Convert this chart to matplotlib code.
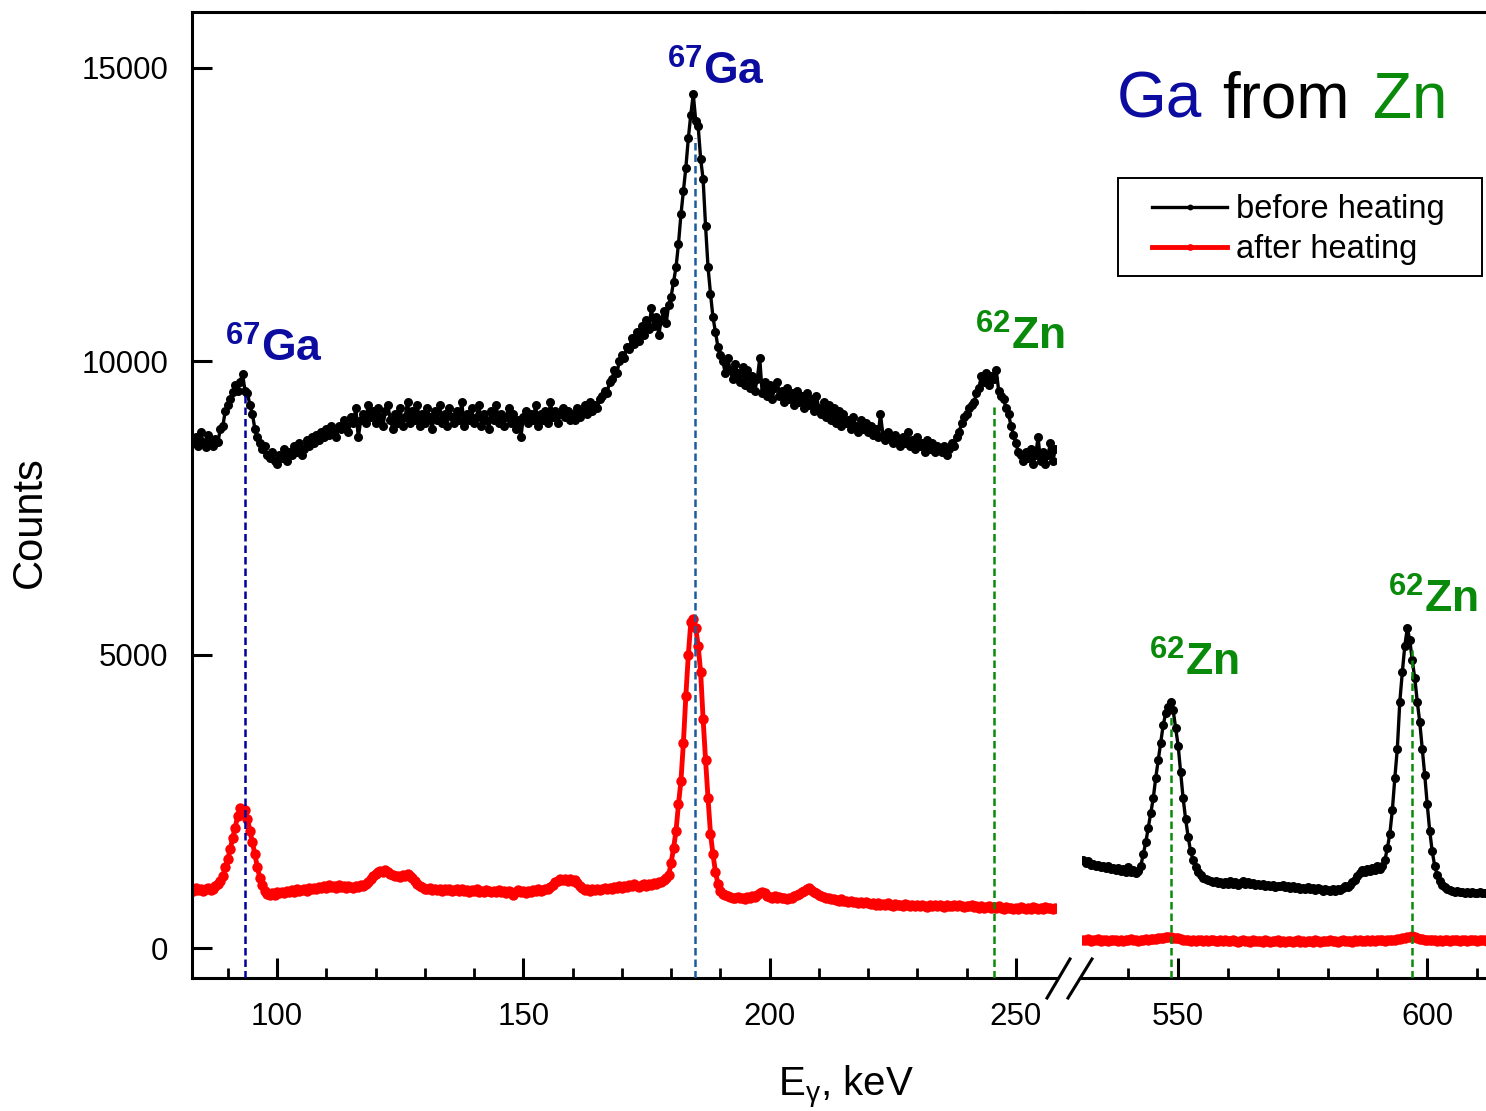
import numpy as np
import matplotlib
matplotlib.use('Agg')
import matplotlib.pyplot as plt
from matplotlib.lines import Line2D
from matplotlib.patches import Rectangle

plt.rcParams['font.family'] = 'Liberation Sans'
plt.rcParams['mathtext.fontset'] = 'custom'
plt.rcParams['mathtext.rm'] = 'Liberation Sans'
plt.rcParams['mathtext.it'] = 'Liberation Sans:italic'
plt.rcParams['mathtext.bf'] = 'Liberation Sans:bold'

# energy grid: 0.5 keV channels
low_start = 83.0   # keV, low-energy part
high_start = 531.0  # keV, high-energy part
step = 0.5

# before heating, 83 - 258 keV
before_low = [
    8600, 8700, 8550, 8800, 8620, 8540, 8750, 8600, 8560, 8680,
    8620, 8850, 8900, 9150, 9250, 9350, 9480, 9600, 9500, 9650,
    9780, 9500, 9450, 9250, 9100, 8850, 8700, 8600, 8500, 8550,
    8400, 8350, 8450, 8300, 8250, 8400, 8350, 8500, 8300, 8450,
    8400, 8550, 8450, 8600, 8400, 8500, 8650, 8550, 8700, 8600,
    8750, 8650, 8800, 8700, 8850, 8750, 8900, 8800, 8700, 8900,
    8850, 9000, 8900, 8800, 9050, 8950, 9200, 8700, 9000, 9100,
    8950, 9250, 9050, 9150, 8950, 9200, 9050, 8900, 9150, 9250,
    9000, 8850, 9100, 8950, 9200, 8900, 9050, 9300, 8950, 9150,
    9000, 9250, 8900, 9100, 8950, 9200, 9050, 8850, 9150, 9000,
    9250, 8950, 9100, 8900, 9200, 9050, 8950, 9150, 9000, 9300,
    8900, 9100, 9000, 9200, 8950, 9050, 9250, 8900, 9100, 9000,
    8850, 9150, 9000, 9250, 8950, 9100, 8900, 9050, 9200, 8950,
    9100, 8850, 9000, 8700, 9050, 9150, 8950, 9100, 9000, 9250,
    8900, 9100, 9000, 9150, 8950, 9300, 9050, 9150, 8950, 9100,
    9200, 9050, 9150, 9000, 9100, 9000, 9200, 9050, 9150, 9250,
    9100, 9300, 9150, 9250, 9200, 9350, 9400, 9500, 9450, 9650,
    9700, 9850, 9800, 10000, 10100, 10050, 10250, 10200, 10400, 10300,
    10500, 10350, 10600, 10450, 10700, 10550, 10900, 10600, 10750, 10450,
    10700, 10850, 10650, 10950, 11100, 11350, 11600, 12000, 12500, 12900,
    13300, 13800, 14200, 14550, 14100, 14000, 13450, 13100, 12300, 11600,
    11150, 10750, 10500, 10250, 10100, 10000, 9800, 10050, 9850, 9700,
    9950, 9800, 9650, 9900, 9600, 9850, 9550, 9750, 9500, 9700,
    10050, 9450, 9650, 9400, 9600, 9350, 9550, 9650, 9400, 9500,
    9300, 9550, 9350, 9450, 9250, 9500, 9300, 9400, 9200, 9450,
    9250, 9350, 9150, 9400, 9200, 9100, 9300, 9050, 9250, 9000,
    9200, 8950, 9150, 8900, 9100, 8950, 9000, 8850, 9050, 8900,
    8800, 9000, 8850, 8950, 8800, 8900, 8750, 8850, 8700, 9100,
    8750, 8650, 8800, 8700, 8600, 8750, 8650, 8550, 8700, 8600,
    8800, 8550, 8650, 8500, 8700, 8550, 8600, 8450, 8650, 8500,
    8600, 8450, 8550, 8500, 8450, 8550, 8400, 8500, 8600, 8550,
    8700, 8800, 8950, 9050, 9100, 9200, 9250, 9300, 9450, 9550,
    9750, 9650, 9800, 9600, 9750, 9700, 9850, 9500, 9400, 9350,
    9200, 9100, 8900, 8750, 8600, 8450, 8400, 8300, 8450, 8350,
    8500, 8250, 8400, 8700, 8300, 8450, 8250, 8400, 8600, 8300,
    8500,
]

# after heating, 83 - 258 keV
after_low = [
    980, 1020, 990, 1010, 970, 1000, 1030, 990, 1010, 1050,
    1090, 1150, 1230, 1380, 1520, 1680, 1880, 2050, 2250, 2380,
    2300, 2350, 2200, 2000, 1800, 1600, 1380, 1200, 1080, 980,
    920, 900, 940, 910, 950, 930, 960, 940, 970, 950,
    990, 960, 1000, 970, 990, 1010, 980, 1020, 1000, 1030,
    1010, 1040, 1020, 1050, 1030, 1080, 1040, 1060, 1030, 1070,
    1040, 1050, 1020, 1060, 1040, 1030, 1060, 1040, 1070, 1060,
    1090, 1130, 1170, 1220, 1260, 1290, 1320, 1300, 1330, 1290,
    1270, 1240, 1220, 1230, 1210, 1240, 1220, 1260, 1230, 1200,
    1150, 1100, 1060, 1040, 1010, 1000, 1020, 990, 1010, 990,
    1000, 980, 1010, 990, 1000, 970, 990, 1010, 980, 1000,
    970, 990, 960, 990, 970, 1000, 960, 980, 950, 990,
    970, 950, 980, 960, 990, 950, 970, 940, 980, 960,
    900, 960, 990, 950, 970, 940, 980, 960, 990, 970,
    1000, 970, 990, 1010, 1000, 1040, 1080, 1120, 1150, 1170,
    1160, 1180, 1150, 1170, 1140, 1160, 1110, 1060, 1020, 990,
    1000, 980, 1000, 990, 1010, 990, 1000, 1020, 1000, 1030,
    1010, 1040, 1020, 1050, 1030, 1060, 1040, 1080, 1050, 1090,
    1060, 1040, 1070, 1090, 1060, 1100, 1080, 1110, 1090, 1130,
    1120, 1160, 1200, 1240, 1450, 1700, 2000, 2450, 2850, 3500,
    4300, 5000, 5550, 5600, 5450, 5150, 4700, 3900, 3200, 2550,
    1950, 1600, 1300, 1100, 980, 920, 900, 880, 870, 860,
    850, 870, 850, 860, 840, 870, 860, 880, 870, 900,
    930, 960, 930, 890, 870, 860, 880, 850, 870, 850,
    860, 840, 860, 850, 880, 900, 920, 950, 980, 1000,
    1020, 990, 960, 930, 900, 880, 870, 860, 850, 830,
    840, 820, 810, 830, 800, 810, 790, 800, 780, 790,
    770, 790, 760, 780, 770, 750, 770, 740, 760, 730,
    750, 730, 760, 740, 720, 750, 730, 740, 720, 750,
    730, 710, 740, 720, 730, 710, 740, 720, 700, 730,
    720, 740, 710, 730, 720, 700, 730, 710, 720, 740,
    710, 730, 720, 700, 720, 710, 730, 700, 720, 690,
    710, 690, 700, 720, 690, 700, 680, 710, 690, 670,
    700, 680, 690, 660, 690, 670, 700, 680, 660, 690,
    670, 700, 680, 660, 690, 670, 700, 680, 690, 670,
    690,
]

# before heating, 531 - 612 keV
before_high = [
    1500, 1450, 1480, 1420, 1440, 1400, 1420, 1380, 1400, 1370,
    1390, 1350, 1370, 1330, 1360, 1320, 1340, 1300, 1380, 1290,
    1330, 1280, 1320, 1400, 1600, 1800, 2050, 2300, 2550, 2900,
    3200, 3500, 3800, 4000, 4100, 4200, 4050, 3750, 3450, 3000,
    2550, 2200, 1900, 1650, 1500, 1380, 1300, 1250, 1200, 1180,
    1160, 1140, 1130, 1150, 1110, 1130, 1100, 1120, 1090, 1140,
    1100, 1120, 1080, 1110, 1150, 1100, 1120, 1090, 1110, 1080,
    1100, 1070, 1090, 1060, 1080, 1050, 1070, 1040, 1060, 1050,
    1070, 1040, 1060, 1030, 1050, 1020, 1040, 1010, 1030, 1000,
    1040, 1010, 1030, 990, 1020, 1000, 980, 1010, 990, 970,
    1000, 980, 1010, 990, 1020, 1050, 1040, 1080, 1120, 1160,
    1220, 1280, 1330, 1290, 1350, 1310, 1370, 1330, 1390, 1350,
    1400, 1500, 1700, 1950, 2350, 2900, 3400, 4200, 4700, 5150,
    5450, 5250, 4900, 4600, 4200, 3850, 3400, 2950, 2450, 2000,
    1650, 1400, 1250, 1150, 1080, 1040, 1010, 990, 980, 960,
    970, 950, 960, 940, 950, 930, 950, 940, 930, 950,
    930, 940, 930,
]

# after heating, 531 - 612 keV
after_high = [
    140, 130, 150, 120, 140, 130, 150, 125, 140, 130,
    120, 140, 130, 145, 125, 135, 120, 140, 130, 150,
    130, 140, 125, 145, 135, 150, 140, 155, 150, 160,
    165, 175, 180, 185, 190, 185, 180, 170, 165, 150,
    145, 130, 140, 125, 135, 120, 140, 130, 125, 135,
    120, 130, 140, 125, 115, 130, 120, 135, 125, 115,
    130, 120, 110, 125, 135, 115, 125, 110, 130, 120,
    115, 125, 110, 130, 120, 105, 125, 115, 130, 110,
    120, 110, 125, 115, 105, 120, 130, 110, 120, 105,
    125, 115, 110, 130, 120, 110, 125, 115, 120, 130,
    115, 125, 110, 120, 130, 115, 125, 120, 110, 130,
    120, 135, 125, 115, 130, 120, 135, 125, 140, 130,
    135, 125, 140, 130, 145, 140, 150, 160, 170, 180,
    190, 195, 200, 190, 175, 160, 150, 140, 135, 145,
    130, 140, 125, 135, 120, 140, 130, 125, 140, 130,
    135, 120, 140, 130, 125, 140, 130, 135, 120, 140,
    130, 135, 125,
]

# gamma lines and the top of each dashed marker
ga_lines = [93.4, 184.9]
ga_tops = [9430, 13800]
zn_lines_low = [245.6]
zn_tops_low = [9250]
zn_lines_high = [548.6, 596.9]
zn_tops_high = [3950, 5080]

e_low = low_start + step * np.arange(len(before_low))
e_high = high_start + step * np.arange(len(before_high))

W, H = 1486, 1111
fig = plt.figure(figsize=(W / 100, H / 100), dpi=100)

def fx(px):
    return px / W

def fy(py):
    return 1 - py / H

bot, top = fy(978), fy(12)
axL = fig.add_axes([fx(192), bot, fx(1056) - fx(192), top - bot])
axR = fig.add_axes([fx(1082), bot, fx(1486) - fx(1082), top - bot])

BLUE = '#0c0ca0'
GREEN = '#0a8a0a'

for ax, e, b, a in [(axL, e_low, before_low, after_low),
                    (axR, e_high, before_high, after_high)]:
    lb, = ax.plot(e, b, '-o', color='black', lw=2.4, ms=6.5, mew=0,
                  label='before heating')
    la, = ax.plot(e, a, '-o', color='red', lw=3.5, ms=7.5, mew=0,
                  label='after heating')
    ax.set_ylim(-510, 15950)
    ax.spines['right'].set_visible(False)
    for s in ax.spines.values():
        s.set_linewidth(2.2)
    ax.tick_params(which='major', direction='in', length=14.4, width=2.2,
                   labelsize=22.5, pad=17)
    ax.tick_params(which='minor', direction='in', length=7.2, width=2)
    if ax is axL:
        handles = [lb, la]

axL.set_xlim(82.74, 258.14)
axR.set_xlim(530.7, 611.8)
axL.set_xticks([100, 150, 200, 250])
axL.set_xticks(np.arange(90, 258, 10), minor=True)
axR.set_xticks([550, 600])
axR.set_xticks(np.arange(540, 612, 10), minor=True)
axL.set_yticks([0, 5000, 10000, 15000])
axR.spines['left'].set_visible(False)
axR.tick_params(axis='y', which='both', left=False, labelleft=False)

dash = (0, (3, 1.6))
axL.vlines(ga_lines[0], -510, ga_tops[0], colors='#00009a', linestyles=dash, lw=1.8, zorder=4)
axL.vlines(ga_lines[1], -510, ga_tops[1], colors='#1d5c9c', linestyles=dash, lw=1.8, zorder=4)
axL.vlines(zn_lines_low, -510, zn_tops_low, colors=GREEN, linestyles=dash, lw=1.8, zorder=4)
axR.vlines(zn_lines_high, -510, zn_tops_high, colors=GREEN, linestyles=dash, lw=1.8, zorder=4)

# peak labels
ga_lab = r'$^{\mathbf{67}}\mathbf{Ga}$'
zn_lab = r'$^{\mathbf{62}}\mathbf{Zn}$'
axL.text(89.4, 9990, ga_lab, color=BLUE, fontsize=32, va='baseline')
axL.text(179.2, 14710, ga_lab, color=BLUE, fontsize=32, va='baseline')
axL.text(241.7, 10200, zn_lab, color=GREEN, fontsize=32, va='baseline', clip_on=False)
axR.text(544.1, 4640, zn_lab, color=GREEN, fontsize=32, va='baseline')
axR.text(592.2, 5710, zn_lab, color=GREEN, fontsize=32, va='baseline', clip_on=False)

# title
fig.text(fx(1117), fy(118), 'Ga', color=BLUE, fontsize=46, va='baseline')
fig.text(fx(1222), fy(118), 'from', color='black', fontsize=46, va='baseline')
fig.text(fx(1373), fy(118), 'Zn', color=GREEN, fontsize=46, va='baseline')

# axis labels
fig.text(fx(846), fy(1096), r'E$_{\mathrm{γ}}$, keV', fontsize=29, ha='center', va='baseline')
fig.text(fx(30), fy(522), 'Counts', fontsize=30, rotation=90, ha='center', va='center')

# legend
fig.legend(handles, ['before heating', 'after heating'], loc='upper left',
           bbox_to_anchor=(fx(1152), fy(194)), frameon=False, borderpad=0,
           borderaxespad=0, fontsize=23.5, handlelength=2.3, handletextpad=0.28,
           labelspacing=0.28, numpoints=1, markerscale=0.65)
fig.patches.append(Rectangle((fx(1118), fy(276)), fx(1482) - fx(1118), fy(178) - fy(276),
                             transform=fig.transFigure, fill=False, edgecolor='black',
                             lw=1.4, figure=fig))

# axis break marks and top line across the gap
for x0, x1 in [(1047, 1070), (1068, 1092)]:
    fig.add_artist(Line2D([fx(x0), fx(x1)], [fy(998), fy(959)], color='black', lw=2.2))
fig.add_artist(Line2D([fx(1055), fx(1083)], [top, top], color='black', lw=2.2))

fig.savefig('out.png', dpi=100)
